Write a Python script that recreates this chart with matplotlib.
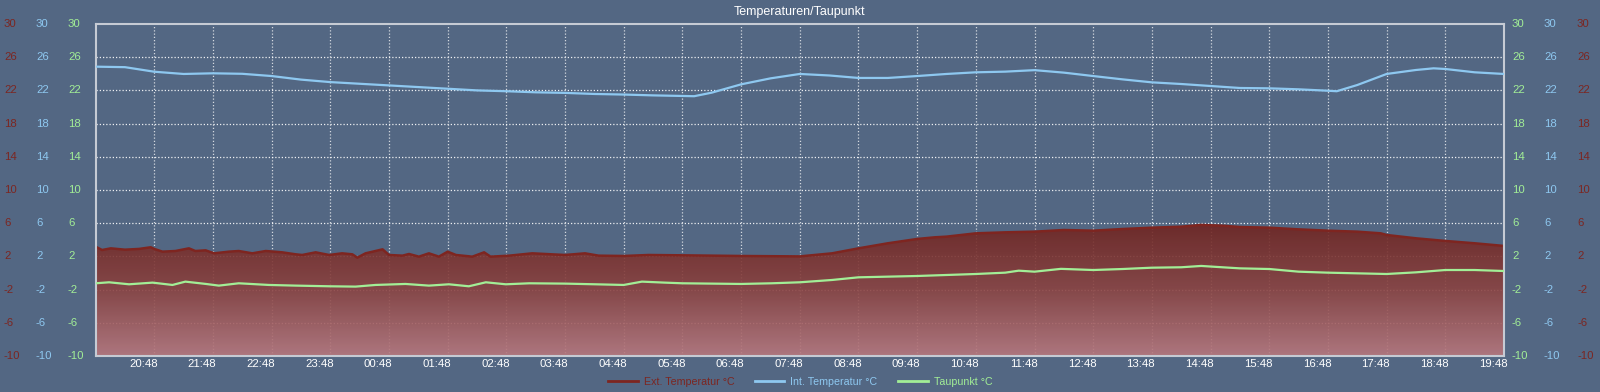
import numpy as np
import matplotlib
matplotlib.use("Agg")
import matplotlib.pyplot as plt
from matplotlib.colors import LinearSegmentedColormap
from matplotlib.patches import PathPatch
from matplotlib.transforms import blended_transform_factory, ScaledTranslation
from matplotlib.lines import Line2D

# ---------------- data (hours since 19:48) ----------------
int_t = [0, 0.5, 1, 1.5, 2, 2.5, 3, 3.5, 4, 4.5, 5, 5.5, 6, 6.5, 7, 7.5, 8, 8.5, 9, 9.5,
         10, 10.2, 10.5, 11, 11.5, 12, 12.5, 13, 13.5, 14, 14.5, 15, 15.5, 16, 16.5, 17,
         17.5, 18, 18.5, 19, 19.5, 20, 20.5, 21, 21.15, 21.5, 22, 22.5, 22.8, 23, 23.5, 24]
int_v = [24.86, 24.8, 24.25, 23.98, 24.06, 24.0, 23.73, 23.3, 23.0, 22.8, 22.6, 22.4, 22.2,
         22.0, 21.9, 21.77, 21.7, 21.57, 21.5, 21.4, 21.33, 21.3, 21.73, 22.73, 23.45, 23.98,
         23.8, 23.5, 23.5, 23.73, 23.98, 24.18, 24.26, 24.44, 24.14, 23.73, 23.33, 22.97,
         22.77, 22.53, 22.29, 22.25, 22.13, 21.96, 21.9, 22.65, 23.98, 24.46, 24.66, 24.58,
         24.18, 23.98]

ext_t = [0, 0.11, 0.26, 0.5, 0.74, 0.94, 1.0, 1.14, 1.36, 1.59, 1.7, 1.875, 2.02, 2.27,
         2.44, 2.67, 2.9, 3.18, 3.41, 3.52, 3.75, 3.98, 4.2, 4.375, 4.46, 4.6, 4.89, 5.0,
         5.23, 5.34, 5.51, 5.68, 5.85, 6.0, 6.14, 6.42, 6.62, 6.73, 7.05, 7.44, 8.0, 8.34,
         8.57, 9.0, 9.42, 10.0, 11.0, 12.0, 12.55, 13.0, 13.5, 14.0, 14.3, 14.5, 15.0, 15.5,
         16.0, 16.5, 17.0, 17.5, 18.0, 18.5, 18.84, 19.2, 19.5, 20.0, 20.5, 21.0, 21.5,
         21.9, 22.0, 22.5, 23.0, 23.5, 24.0]
ext_v = [3.17, 2.77, 2.97, 2.81, 2.9, 3.1, 2.9, 2.57, 2.65, 2.97, 2.65, 2.73, 2.37, 2.57,
         2.65, 2.37, 2.65, 2.49, 2.25, 2.17, 2.49, 2.17, 2.37, 2.25, 1.85, 2.37, 2.85, 2.17,
         2.09, 2.29, 1.97, 2.37, 1.97, 2.57, 2.17, 1.97, 2.49, 1.97, 2.09, 2.37, 2.17, 2.37,
         2.09, 2.05, 2.17, 2.13, 2.05, 2.0, 2.37, 2.97, 3.58, 4.1, 4.3, 4.38, 4.78, 4.9,
         4.98, 5.18, 5.1, 5.3, 5.46, 5.58, 5.79, 5.7, 5.54, 5.46, 5.26, 5.1, 4.98,
         4.78, 4.58, 4.18, 3.86, 3.58, 3.26]

dew_t = [0, 0.23, 0.57, 0.97, 1.31, 1.53, 1.88, 2.1, 2.44, 2.95, 3.41, 3.98, 4.43, 4.77,
         5.28, 5.68, 6.02, 6.36, 6.65, 6.99, 7.39, 8.0, 8.51, 9.0, 9.31, 9.7, 10.0, 11.0,
         11.52, 12.0, 12.55, 13.0, 13.5, 14.0, 14.5, 15.0, 15.5, 15.73, 16.0, 16.45, 17.0,
         17.5, 18.0, 18.5, 18.84, 19.2, 19.5, 20.0, 20.5, 21.0, 21.5, 22.0, 22.5, 23.0,
         23.5, 24.0]
dew_v = [-1.24, -1.12, -1.36, -1.16, -1.44, -1.04, -1.32, -1.52, -1.24, -1.44, -1.52, -1.6,
         -1.64, -1.44, -1.32, -1.52, -1.36, -1.6, -1.12, -1.36, -1.24, -1.28, -1.36, -1.44,
         -1.04, -1.16, -1.24, -1.32, -1.24, -1.12, -0.84, -0.52, -0.44, -0.36, -0.24, -0.12,
         0.04, 0.28, 0.16, 0.5, 0.36, 0.48, 0.64, 0.69, 0.85, 0.69, 0.56, 0.48, 0.16, 0.04,
         -0.04, -0.12, 0.08, 0.36, 0.36, 0.24]

y_ticks = [-10, -6, -2, 2, 6, 10, 14, 18, 22, 26, 30]
x_tick_labels = ["20:48", "21:48", "22:48", "23:48", "00:48", "01:48", "02:48", "03:48",
                 "04:48", "05:48", "06:48", "07:48", "08:48", "09:48", "10:48", "11:48",
                 "12:48", "13:48", "14:48", "15:48", "16:48", "17:48", "18:48", "19:48"]

series_names = ["Ext. Temperatur °C", "Int. Temperatur °C", "Taupunkt °C"]

# ---------------- style ----------------
BG = "#536783"
RED = "#7e2520"
RED_TXT = "#7c2621"
BLUE = "#8ec8f0"
GREEN = "#a2ee96"
SPINE = "#c6cbd4"

plt.rcParams['font.family'] = ['Liberation Sans', 'DejaVu Sans']

fig = plt.figure(figsize=(16, 3.92), dpi=100, facecolor=BG)
ax = fig.add_axes([95.6 / 1600, 36 / 392, (1504 - 95.6) / 1600, 332 / 392])
ax.set_facecolor(BG)

# grid
for v in y_ticks[1:-1]:
    ax.axhline(v, color="white", lw=0.9, ls=(0, (1, 1.6)), alpha=0.9, zorder=0.5)
for k in range(1, 24):
    ax.axvline(k, color="white", lw=0.9, ls=(0, (1, 1.6)), alpha=0.75, zorder=0.5)

# gradient fill under ext temperature
poly = ax.fill_between(ext_t, ext_v, -10, facecolor="none", edgecolor="none")
path = poly.get_paths()[0]
clip = PathPatch(path, facecolor="none", edgecolor="none", transform=ax.transData)
ax.add_patch(clip)
cmap = LinearSegmentedColormap.from_list("g", ["#6e231f", "#8a4341", "#b8787e"])
grad = np.linspace(0, 1, 256).reshape(-1, 1)
im = ax.imshow(grad, extent=[0, 24, -10, 6.3], origin="upper", aspect="auto",
               cmap=cmap, alpha=0.9, zorder=1.2, interpolation="bilinear")
im.set_clip_path(clip)

ax.plot(ext_t, ext_v, color=RED, lw=1.8, zorder=2, solid_joinstyle="round")
ax.plot(int_t, int_v, color=BLUE, lw=1.6, zorder=3)
ax.plot(dew_t, dew_v, color=GREEN, lw=1.6, zorder=3)

ax.set_xlim(0, 24)
ax.set_ylim(-10, 30)
ax.set_yticks([])
ax.set_xticks(range(1, 25))
ax.set_xticklabels(x_tick_labels, color="white", fontsize=8.2)
ax.tick_params(axis="x", length=0, pad=2.5)
off = ScaledTranslation(-11 / 100, 0, fig.dpi_scale_trans)
for lab in ax.get_xticklabels():
    lab.set_transform(lab.get_transform() + off)

for s in ax.spines.values():
    s.set_color(SPINE)
    s.set_linewidth(1.5)

# y labels (three axes each side)
tr = blended_transform_factory(fig.transFigure, ax.transData)
cols_left = [(4, RED_TXT), (36, BLUE), (68, GREEN)]
cols_right = [(1512, GREEN), (1544, BLUE), (1577, RED_TXT)]
for v in y_ticks:
    for xpix, c in cols_left + cols_right:
        ax.text(xpix / 1600, v, str(v), transform=tr, ha="left", va="center",
                color=c, fontsize=8.2, clip_on=False)

fig.text(0.5, 1 - 12 / 392, "Temperaturen/Taupunkt", ha="center", va="center",
         color="white", fontsize=9)

handles = [Line2D([], [], color=RED, lw=2), Line2D([], [], color=BLUE, lw=2),
           Line2D([], [], color=GREEN, lw=2)]
leg = fig.legend(handles, series_names, loc="center", ncol=3, frameon=False,
                 bbox_to_anchor=(0.5, 1 - 382 / 392), fontsize=7.7,
                 handlelength=2.8, handletextpad=0.55, columnspacing=1.9,
                 labelcolor=[RED_TXT, BLUE, GREEN])

fig.savefig("out.png", dpi=100, facecolor=BG)
